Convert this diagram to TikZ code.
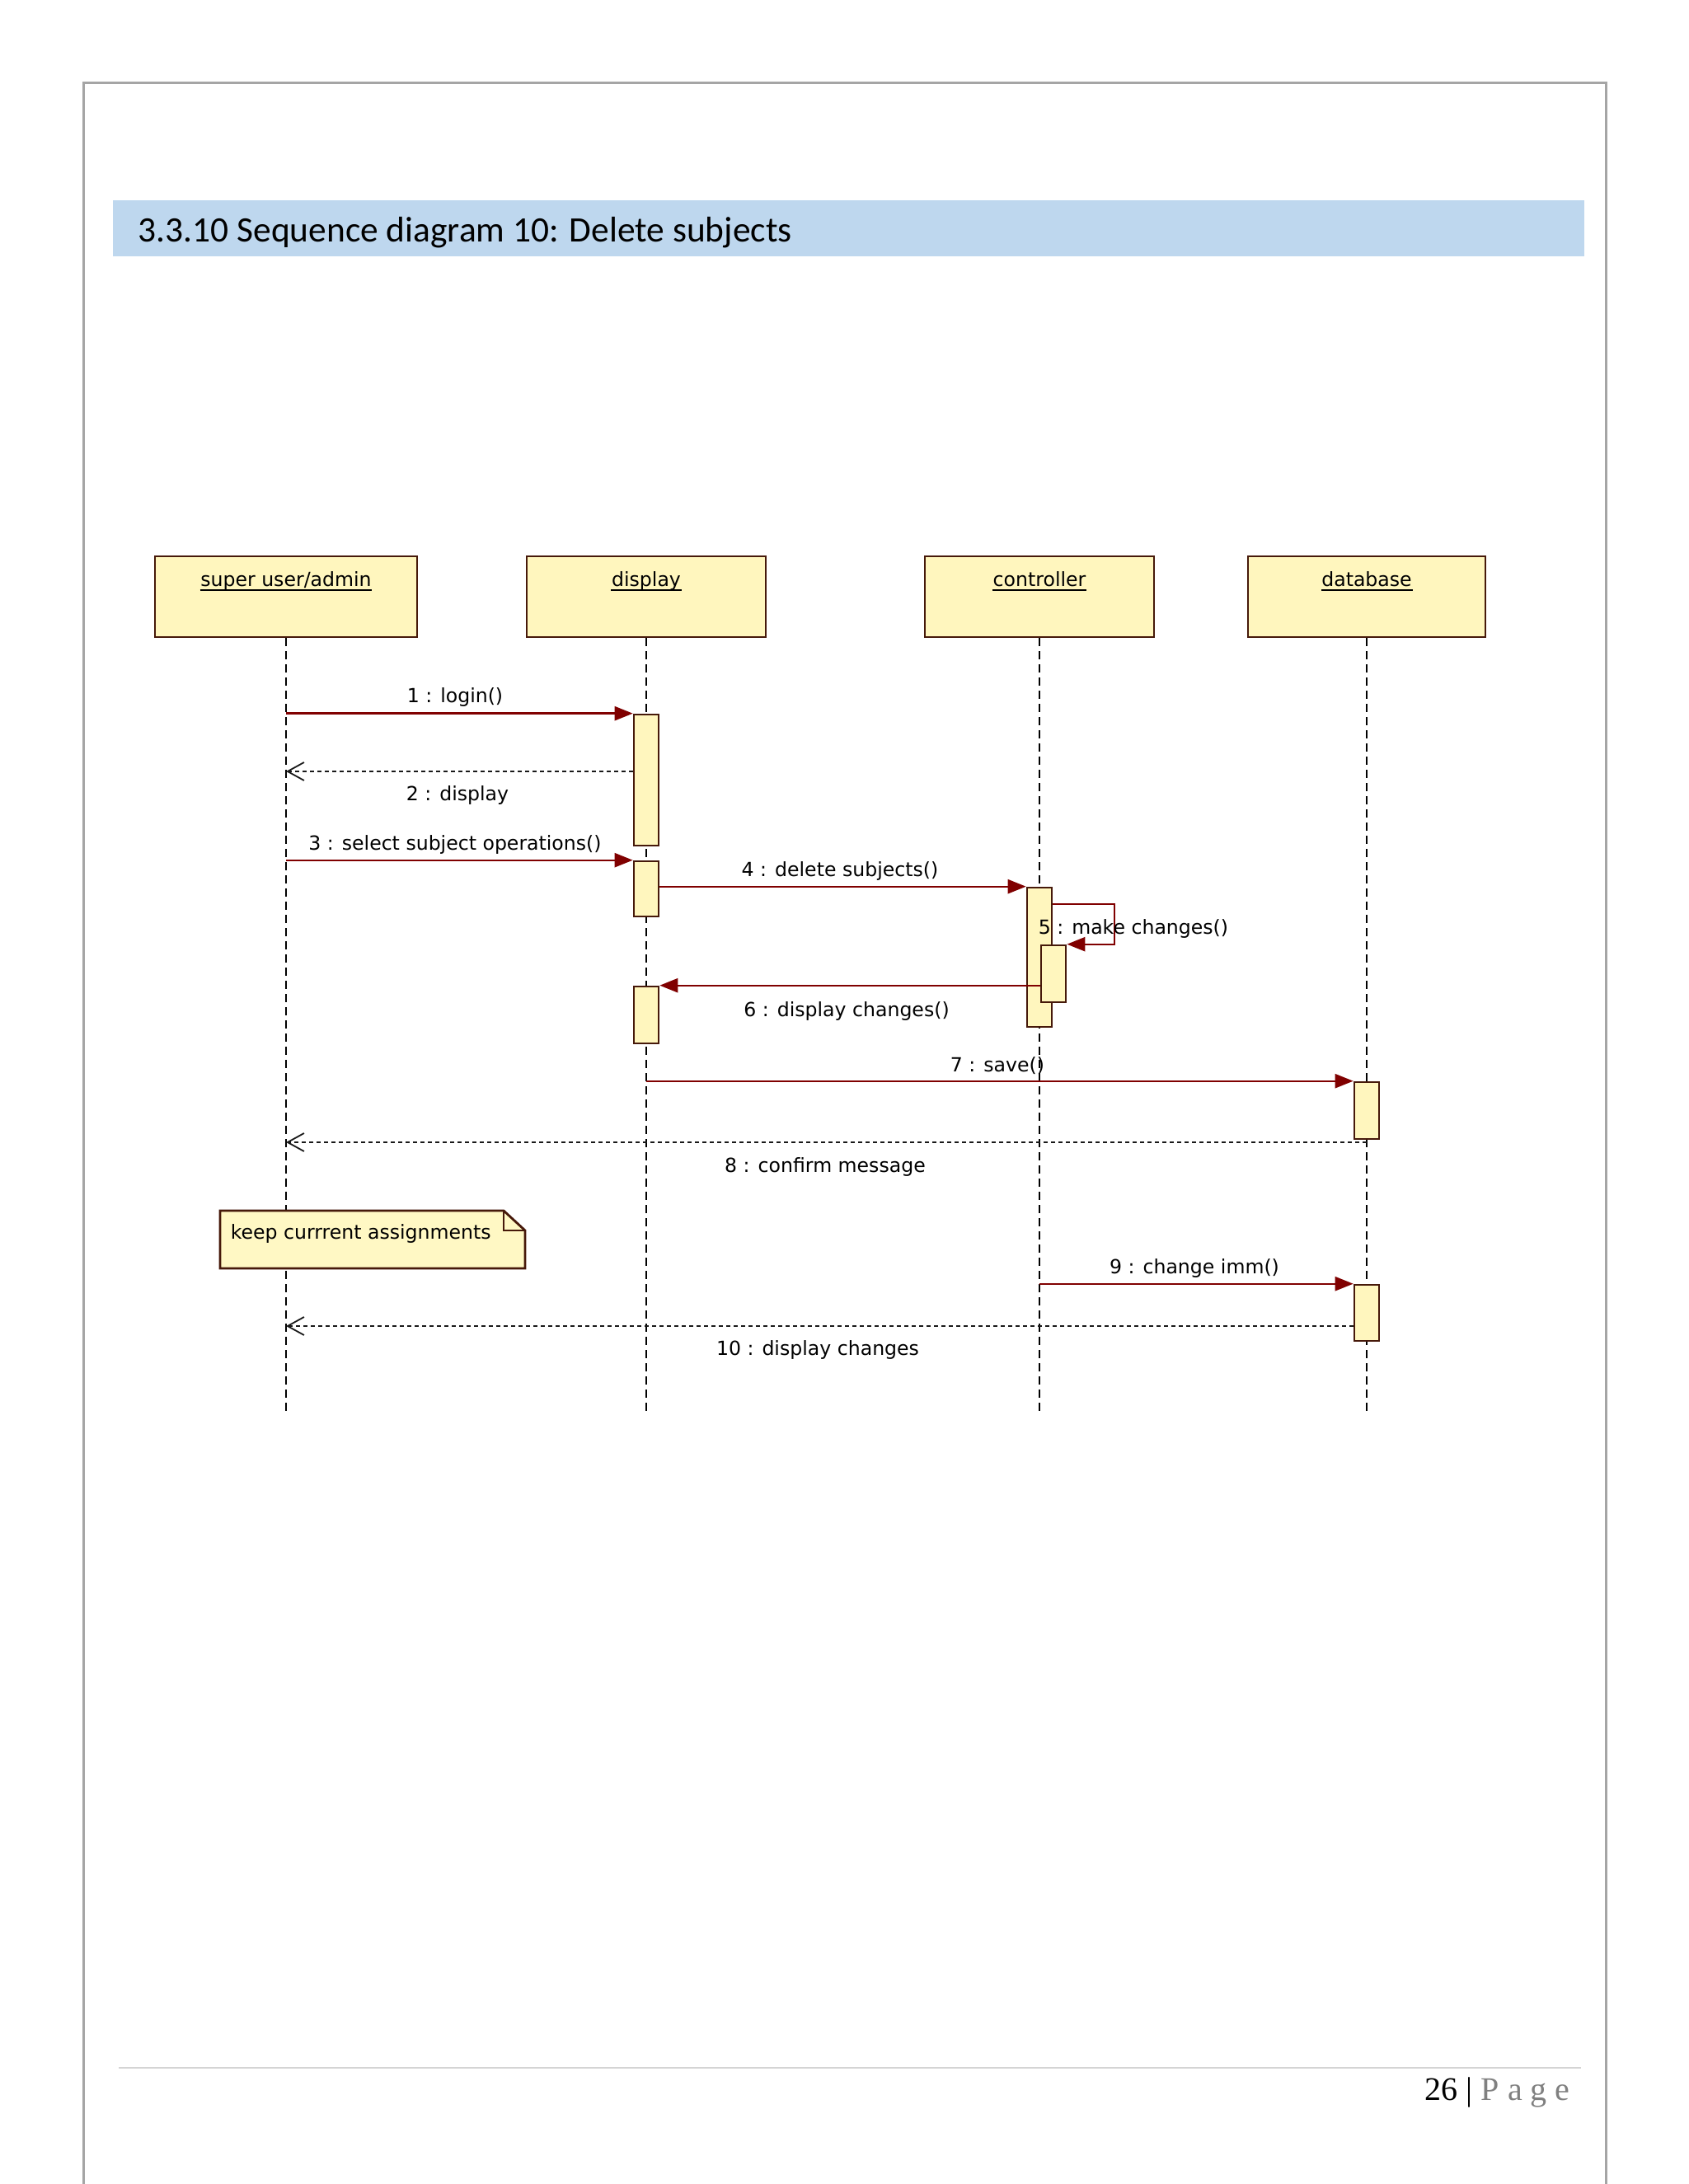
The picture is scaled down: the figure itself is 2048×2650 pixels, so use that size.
\documentclass[tikz,border=0pt]{standalone}
\usepackage{fontspec}
\setmainfont{DejaVu Sans}
\newfontfamily\titlefont{Carlito}
\newfontfamily\footfont{Liberation Serif}
\usetikzlibrary{arrows.meta,fit,calc}
\definecolor{msgred}{RGB}{128,0,0}
\definecolor{boxline}{RGB}{70,25,10}
\definecolor{boxfill}{RGB}{255,246,190}
\definecolor{notefill}{RGB}{255,248,196}
\definecolor{band}{RGB}{190,215,238}
\definecolor{pageline}{RGB}{165,165,165}
\definecolor{footline}{RGB}{212,212,212}
\definecolor{pagegray}{RGB}{128,128,128}
\begin{document}
\begin{tikzpicture}[x=0.25pt,y=-0.25pt,
  objbox/.style={draw=boxline, fill=boxfill, line width=0.7pt, inner sep=0pt},
  actbox/.style={draw=boxline, fill=boxfill, line width=0.65pt, inner sep=0pt},
  lbl/.style={inner sep=0pt, anchor=base, font=\fontsize{5.9pt}{7pt}\selectfont},
  lifeline/.style={black, line width=0.5pt, dash pattern=on 2.5pt off 1.5pt},
  msg/.style={msgred, line width=0.6pt, -{Triangle[length=5.5pt,width=4.25pt]}},
  ret/.style={black!90, line width=0.5pt, dash pattern=on 1.25pt off 1pt,
    -{Straight Barb[length=5pt,width=5.5pt,line width=0.45pt]}},
  ulne/.style={black, line width=0.5pt}
]
\useasboundingbox (0,0) rectangle (2048,2650);
\fill[white] (0,0) rectangle (2048,2650);
% page frame
\draw[pageline, line width=0.75pt] (101,2650) -- (101,101) -- (1948,101) -- (1948,2650);
% title band
\node[fit={(137,243)(1922,311)}, fill=band, inner sep=0pt] (band) {};
\node[anchor=base west, inner sep=0pt, font=\titlefont\fontsize{10.85pt}{13pt}\selectfont] (title) at (167,294) {3.3.10 Sequence diagram 10: Delete subjects};

\coordinate (End) at (0,1716);
% object boxes
\node[objbox, fit={(188,675)(506,773)}] (u) {};
\node[objbox, fit={(639,675)(929,773)}] (d) {};
\node[objbox, fit={(1122,675)(1400,773)}] (c) {};
\node[objbox, fit={(1514,675)(1802,773)}] (db) {};
% lifelines
\draw[lifeline] (u.south) -- (u.south |- End);
\draw[lifeline] (d.south) -- (d.south |- End);
\draw[lifeline] (c.south) -- (c.south |- End);
\draw[lifeline] (db.south) -- (db.south |- End);
% box labels
\node[lbl] (tu) at (347,712) {super user/admin};
\node[lbl] (td) at (784,712) {display};
\node[lbl] (tc) at (1261,712) {controller};
\node[lbl] (tdb) at (1658,712) {database};
\foreach \t in {tu,td,tc,tdb}{
  \draw[ulne] ([yshift=-1.1pt]\t.base west) -- ([yshift=-1.1pt]\t.base east);
}
% activations
\node[actbox, fit={(769,867)(799,1026)}] (a1) {};
\node[actbox, fit={(769,1045)(799,1112)}] (a2) {};
\node[actbox, fit={(769,1197)(799,1266)}] (a3) {};
\node[actbox, fit={(1246,1077)(1276,1246)}] (c1) {};
\node[actbox, fit={(1263,1147)(1293,1216)}] (c2) {};
\node[actbox, fit={(1643,1313)(1673,1382)}] (d1) {};
\node[actbox, fit={(1643,1559)(1673,1627)}] (d2) {};

% messages
\coordinate (y2) at (0,936);
\coordinate (s5) at (1352,1097);
\coordinate (y8) at (0,1386);
\coordinate (y10) at (0,1609);
\draw[msg] (u.south |- a1.north) -- (a1.north west);
\draw[ret] (a1.west |- y2) -- (u.south |- y2);
\draw[msg] (u.south |- a2.north) -- (a2.north west);
\draw[msg] (a2.east |- c1.north) -- (c1.north west);
\draw[msg] (c1.east |- s5) -- (s5) -- (s5 |- c2.north) -- (c2.north east);
\draw[msg] (c2.west |- a3.north) -- (a3.north east);
\draw[msg] (d.south |- d1.north) -- (d1.north west);
\draw[ret] (db.south |- y8) -- (u.south |- y8);
\draw[msg] (c.south |- d2.north) -- (d2.north west);
\draw[ret] (d2.west |- y10) -- (u.south |- y10);

% message labels
\node[lbl] (l1) at (552,853) {1 : login()};
\node[lbl] (l2) at (555,972) {2 : display};
\node[lbl] (l3) at (552,1032) {3 : select subject operations()};
\node[lbl] (l4) at (1019,1063) {4 : delete subjects()};
\node[lbl, anchor=base west] (l5) at (1259,1133) {5 : make changes()};
\node[lbl] (l6) at (1027,1233) {6 : display changes()};
\node[lbl] (l7) at (1210,1300) {7 : save()};
\node[lbl] (l8) at (1001,1422) {8 : confirm message};
\node[lbl] (l9) at (1449,1545) {9 : change imm()};
\node[lbl] (l10) at (992,1644) {10 : display changes};

% note
\draw[boxline, fill=notefill, line width=0.7pt]
  (267,1469) -- (611,1469) -- (637,1493) -- (637,1539) -- (267,1539) -- cycle;
\draw[boxline, line width=0.55pt] (611,1469) -- (611,1493) -- (637,1493);
\node[lbl, anchor=base west] (nt) at (279,1503) {keep currrent assignments};

% footer
\draw[footline, line width=0.5pt] (144,2509) -- (1918,2509);
\node[anchor=base west, inner sep=0pt, font=\footfont\fontsize{10pt}{12pt}\selectfont] (pg) at (1728,2548) {26 | \textcolor{pagegray}{P a g e}};
\end{tikzpicture}
\end{document}
